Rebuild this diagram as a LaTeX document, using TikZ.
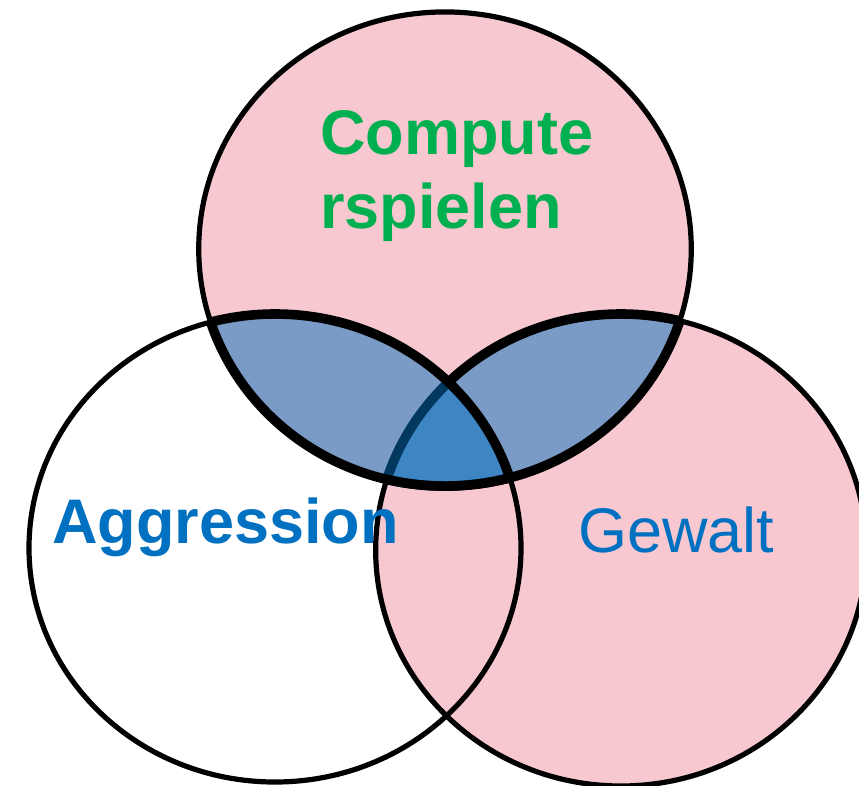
\documentclass[tikz,border=0pt]{standalone}
\usepackage{fontspec}
\setmainfont{Liberation Sans}
\definecolor{vpink}{HTML}{F7C8D0}
\definecolor{vblue}{HTML}{0070C0}
\definecolor{vgreen}{HTML}{00B050}
\begin{document}
\begin{tikzpicture}[x=0.75pt,y=-0.75pt,
  thinline/.style={draw=black,line width=3.9pt},
  lensline/.style={draw=black,line width=7.2pt},
  lensfill/.style={fill=vblue,fill opacity=0.5},
  lbl/.style={inner sep=0pt,font=\fontsize{47.25}{55.5}\selectfont}]
\useasboundingbox (0,0) rectangle (859,785);
\clip (0,0) rectangle (859,785);
\def\topE{(445,249) ellipse [x radius=184.7pt, y radius=177.8pt]}
\def\leftE{(275,548) ellipse [x radius=184.5pt, y radius=175.5pt]}
\def\rightE{(621,550) ellipse [x radius=184pt, y radius=177pt]}
% base fills
\fill[white] \leftE;
\fill[vpink] \rightE;
\fill[vpink] \topE;
% base outlines
\draw[thinline] \leftE;
\draw[thinline] \rightE;
\draw[thinline] \topE;
% lens: top and right
\begin{scope}
  \clip \topE;
  \fill[lensfill] \rightE;
  \draw[lensline] \rightE;
\end{scope}
\begin{scope}
  \clip \rightE;
  \draw[lensline] \topE;
\end{scope}
% lens: top and left
\begin{scope}
  \clip \topE;
  \fill[lensfill] \leftE;
  \draw[lensline] \leftE;
\end{scope}
\begin{scope}
  \clip \leftE;
  \draw[lensline] \topE;
\end{scope}
% labels
\node[lbl,anchor=base west,text=vgreen,align=left,font=\fontsize{47.25}{55.5}\selectfont\bfseries] (comp) at (320,228) {Compute\\rspielen};
\node[lbl,anchor=base west,text=vblue,font=\fontsize{47.25}{55.5}\selectfont\bfseries] (aggr) at (52,543) {Aggression};
\node[lbl,anchor=base west,text=vblue] (gew) at (578,552) {Gewalt};
\end{tikzpicture}
\end{document}
